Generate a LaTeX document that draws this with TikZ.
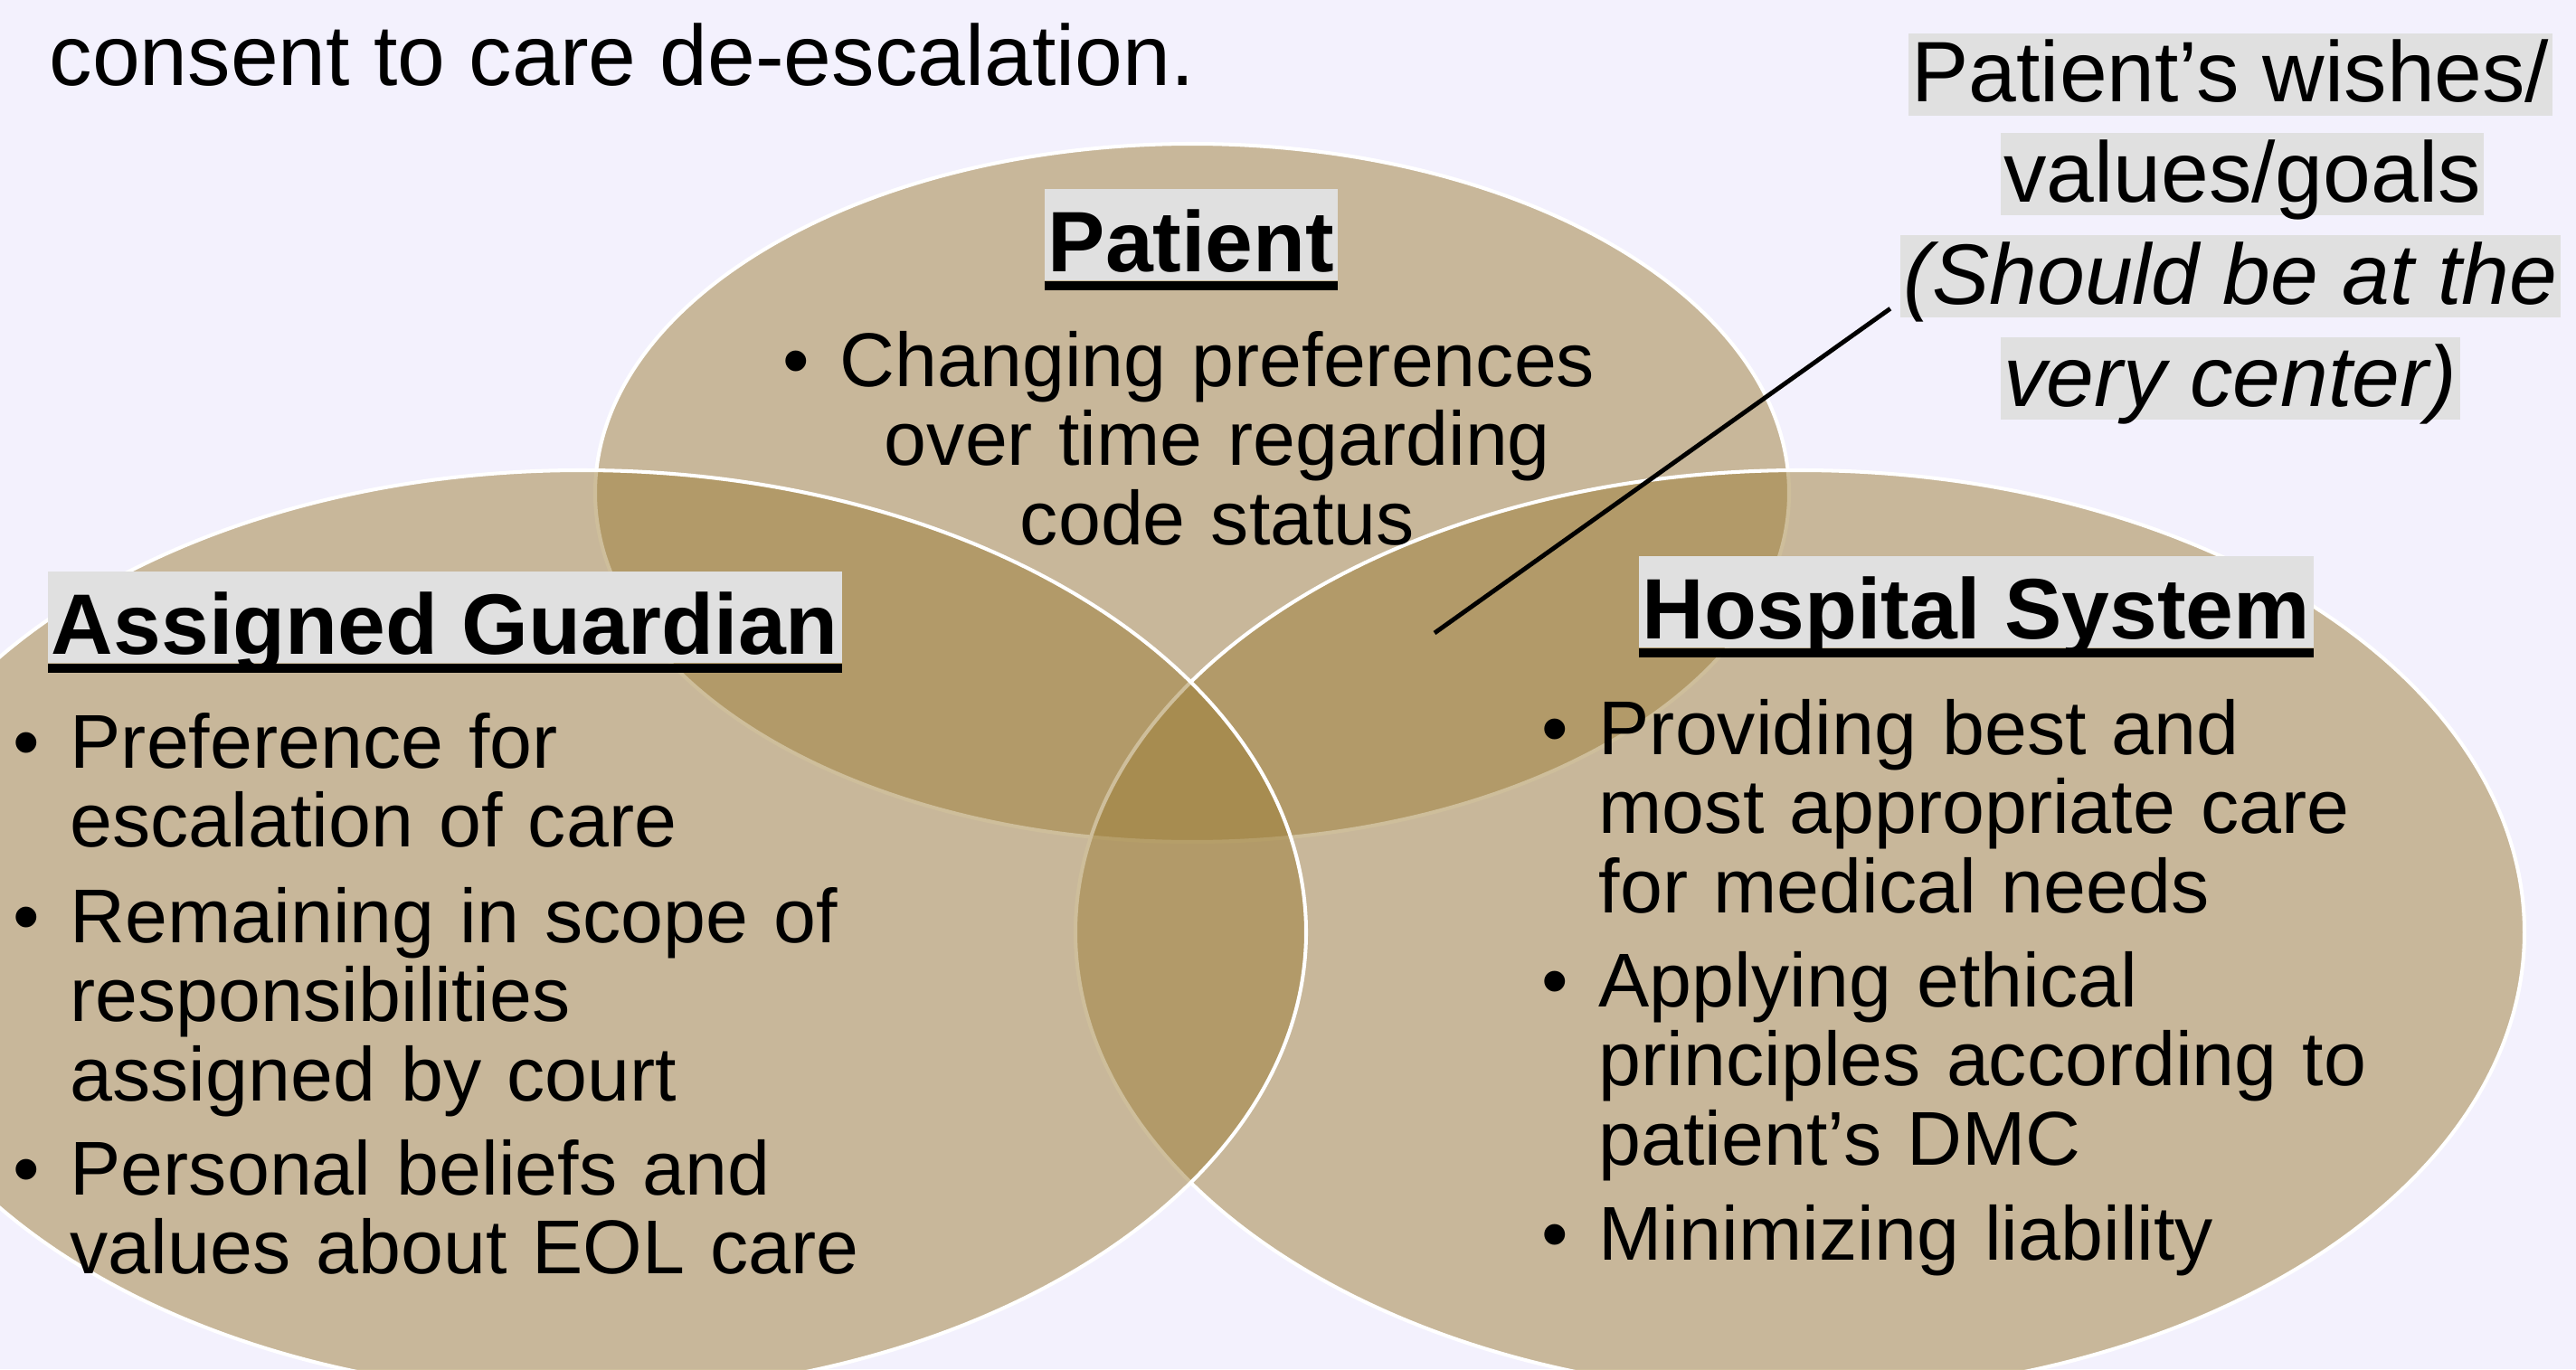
\documentclass[tikz,border=0pt]{standalone}
\usepackage{fontspec}
\setmainfont{Liberation Sans}
\usepackage{tikz}
\definecolor{slidebg}{RGB}{243,241,253}
\definecolor{venn}{RGB}{158,127,57}
\definecolor{hilite}{RGB}{224,224,224}
\tikzstyle{set} = [draw=white, line width=1.15pt, fill=venn, fill opacity=0.5]
\tikzstyle{lead} = [inner sep=0pt, anchor=base west, font=\fontsize{27}{32}\selectfont]
\tikzstyle{head} = [fill=hilite, inner xsep=1pt, inner ysep=0pt, text height=25.8pt, text depth=2.8pt, anchor=base, font=\fontsize{27}{32}\selectfont\bfseries]
\tikzstyle{uline} = [line width=3.1pt]
\tikzstyle{note} = [fill=hilite, inner xsep=1pt, inner ysep=0pt, text height=21.6pt, text depth=4.3pt, anchor=base, font=\fontsize{27}{32}\selectfont]
\tikzstyle{notei} = [note, font=\fontsize{27}{32}\selectfont\itshape]
\tikzstyle{item} = [inner sep=0pt, text width=10cm, align=left, anchor=base west, font=\fontsize{24}{24.9}\selectfont]
\tikzstyle{pointer} = [line width=1.4pt]
\newcommand{\bul}{\leavevmode\llap{\textbullet\hspace{0.34cm}}}

\begin{document}
\begin{tikzpicture}
        \useasboundingbox (0,0) rectangle (28.48,15.14);
        \fill[slidebg] (0,0) rectangle (28.48,15.14);

        % patient set sits at the back, guardian on top
        \draw[set] (13.18,9.69) ellipse (6.60 and 3.86);
        \draw[set] (19.90,4.83) ellipse (8.01 and 5.11);
        \draw[set] (6.43,4.83) ellipse (8.01 and 5.11);
        \coordinate (core) at (15.86,8.14);

        \node[lead] (intro) at (0.54,14.19) {consent to care de-escalation.};

        \node[head] (pat) at (13.17,12.14) {Patient};
        \node[head] (grd) at (4.92,7.91) {Assigned Guardian};
        \node[head] (hos) at (21.85,8.08) {Hospital System};
        \draw[uline] ([yshift=-1.55pt]pat.south west) -- ([yshift=-1.55pt]pat.south east);
        \draw[uline] ([yshift=-1.55pt]grd.south west) -- ([yshift=-1.55pt]grd.south east);
        \draw[uline] ([yshift=-1.55pt]hos.south west) -- ([yshift=-1.55pt]hos.south east);

        \node[item, text width=9cm, align=center, anchor=base] (pat1) at (13.46,10.87) {\bul Changing preferences\\ over time regarding\\ code status};

        \node[item] (grd1) at (0.77,6.65) {\bul Preference for\\ escalation of care};
        \node[item] (grd2) at (0.77,4.72) {\bul Remaining in scope of\\ responsibilities\\ assigned by court};
        \node[item] (grd3) at (0.77,1.93) {\bul Personal beliefs and\\ values about EOL care};

        \node[item] (hos1) at (17.67,6.80) {\bul Providing best and\\ most appropriate care\\ for medical needs};
        \node[item] (hos2) at (17.67,4.01) {\bul Applying ethical\\ principles according to\\ patient’s DMC};
        \node[item] (hos3) at (17.67,1.21) {\bul Minimizing liability};

        % callout, one highlighted box per line
        \node[note] (wish1) at (24.66,14.01) {Patient’s wishes/};
        \node[note] (wish2) at (24.79,12.91) {values/goals\ };
        \node[notei] (wish3) at (24.66,11.78) {(Should be at the};
        \node[notei] (wish4) at (24.66,10.65) {very center)};
        \draw[pointer] ([shift={(-3pt,3pt)}]wish3.south west) -- (core);
    \end{tikzpicture}
\end{document}
